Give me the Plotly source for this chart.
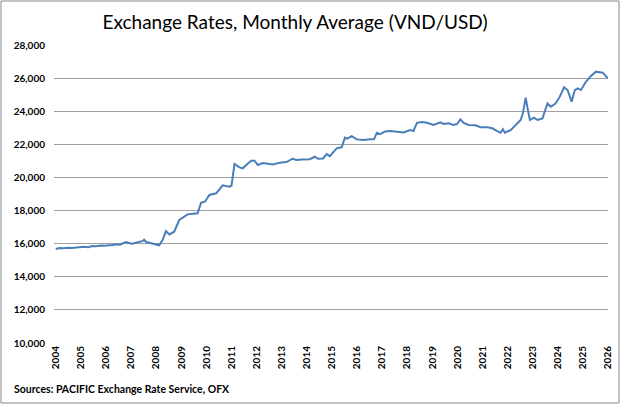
import plotly.graph_objects as go

title_text = "Exchange Rates, Monthly Average (VND/USD)"
source_text = "Sources: PACIFIC Exchange Rate Service, OFX"

dates = [
    2004.00, 2004.15, 2004.30, 2004.50, 2004.65, 2004.80, 2004.95, 2005.10, 2005.30, 2005.45,
    2005.60, 2005.80, 2005.95, 2006.10, 2006.25, 2006.40, 2006.55, 2006.65,
    2006.80, 2006.95, 2007.05, 2007.30, 2007.45, 2007.52, 2007.60, 2007.72, 2007.90, 2008.12,
    2008.25, 2008.39, 2008.52, 2008.72, 2008.92, 2009.12, 2009.25, 2009.45, 2009.65, 2009.79,
    2009.95, 2010.12, 2010.39, 2010.65, 2010.92, 2011.00, 2011.12, 2011.32, 2011.45, 2011.59,
    2011.79, 2011.92, 2012.05, 2012.25, 2012.45, 2012.65, 2012.92, 2013.19, 2013.43, 2013.59,
    2013.80, 2013.99, 2014.12, 2014.32, 2014.45, 2014.65, 2014.79, 2014.92, 2015.05, 2015.19,
    2015.39, 2015.52, 2015.61, 2015.79, 2015.99, 2016.25, 2016.52, 2016.68, 2016.79, 2016.92,
    2017.12, 2017.32, 2017.59, 2017.85, 2018.12, 2018.25, 2018.39, 2018.59, 2018.79, 2019.05,
    2019.32, 2019.45, 2019.65, 2019.85, 2019.99, 2020.12, 2020.25, 2020.45, 2020.72, 2020.92,
    2021.19, 2021.39, 2021.59, 2021.72, 2021.81, 2021.89, 2022.12, 2022.32, 2022.52, 2022.61,
    2022.72, 2022.81, 2022.89, 2023.05, 2023.19, 2023.39, 2023.59, 2023.72, 2023.92, 2024.08,
    2024.25, 2024.39, 2024.55, 2024.68, 2024.79, 2024.92, 2025.12, 2025.32, 2025.52, 2025.79,
    2025.99,
]

rates = [
    15680, 15740, 15720, 15760, 15740, 15770, 15760, 15810, 15790, 15855,
    15840, 15890, 15870, 15910, 15900, 15960, 15940, 16020,
    16100, 16030, 16000, 16100, 16150, 16240, 16100, 16060, 15980, 15900,
    16200, 16760, 16560, 16720, 17430, 17630, 17770, 17800, 17830, 18470,
    18550, 18940, 19040, 19520, 19440, 19500, 20810, 20610, 20550, 20750,
    21010, 21010, 20750, 20870, 20820, 20790, 20890, 20930, 21130, 21050,
    21080, 21110, 21100, 21250, 21130, 21150, 21410, 21290, 21550, 21760,
    21820, 22400, 22340, 22500, 22300, 22260, 22300, 22300, 22700, 22620,
    22780, 22800, 22760, 22720, 22860, 22800, 23300, 23350, 23300, 23170,
    23330, 23230, 23270, 23170, 23230, 23510, 23300, 23170, 23150, 23030,
    23030, 22970, 22800, 22700, 22910, 22700, 22860, 23170, 23470, 23870,
    24820, 24070, 23470, 23610, 23470, 23570, 24480, 24270, 24480, 24880,
    25440, 25280, 24580, 25280, 25380, 25280, 25780, 26130, 26390, 26330,
    25990,
]

year_ticks = list(range(2004, 2027))
year_labels = [str(y) for y in year_ticks]
y_ticks = list(range(10000, 28001, 2000))
y_labels = [f"{v:,}" for v in y_ticks]

W, H = 624, 408
ML, MR, MT, MB = 54, 16, 45, 65

fig = go.Figure()
fig.add_trace(go.Scatter(
    x=dates, y=rates, mode="lines",
    line=dict(color="#4A7EBB", width=2),
    showlegend=False, hoverinfo="skip",
))

fig.update_layout(
    width=W, height=H,
    margin=dict(l=ML, r=MR, t=MT, b=MB),
    paper_bgcolor="white", plot_bgcolor="white",
    font=dict(family="Lato", color="black"),
    title=dict(text=title_text, x=295 / W, xanchor="center", xref="container",
               y=1 - 22 / H, yanchor="middle", yref="container",
               font=dict(family="Lato", size=19, color="black")),
    xaxis=dict(range=[2003.93, 2026.0], tickmode="array", tickvals=year_ticks,
               ticktext=year_labels, tickangle=-90, showgrid=False, zeroline=False,
               showline=False, ticks="", tickfont=dict(family="Lato", size=10, weight="bold"),
               fixedrange=True),
    yaxis=dict(range=[10000, 28000], tickmode="array", tickvals=y_ticks,
               ticktext=y_labels, showgrid=True, gridcolor="#A0A0A0", gridwidth=1,
               zeroline=False, showline=False, ticks="", ticklabelstandoff=8,
               tickfont=dict(family="Lato", size=10, weight="bold"), fixedrange=True),
)

# source note
fig.add_annotation(text=source_text, xref="paper", yref="paper",
                   x=-(ML - 12) / (W - ML - MR), y=-(389 - (H - MB)) / (H - MT - MB),
                   xanchor="left", yanchor="middle", showarrow=False,
                   font=dict(family="Lato", size=10.5, weight="bold", color="black"))

# outer chart border
pw, ph = W - ML - MR, H - MT - MB
fig.add_shape(type="rect", xref="paper", yref="paper",
              x0=(1 - ML) / pw, x1=(619 - ML) / pw,
              y0=(H - MB - 403) / ph, y1=(H - MB - 1) / ph,
              line=dict(color="#888888", width=1), fillcolor="rgba(0,0,0,0)")

fig.write_html("out.html")
